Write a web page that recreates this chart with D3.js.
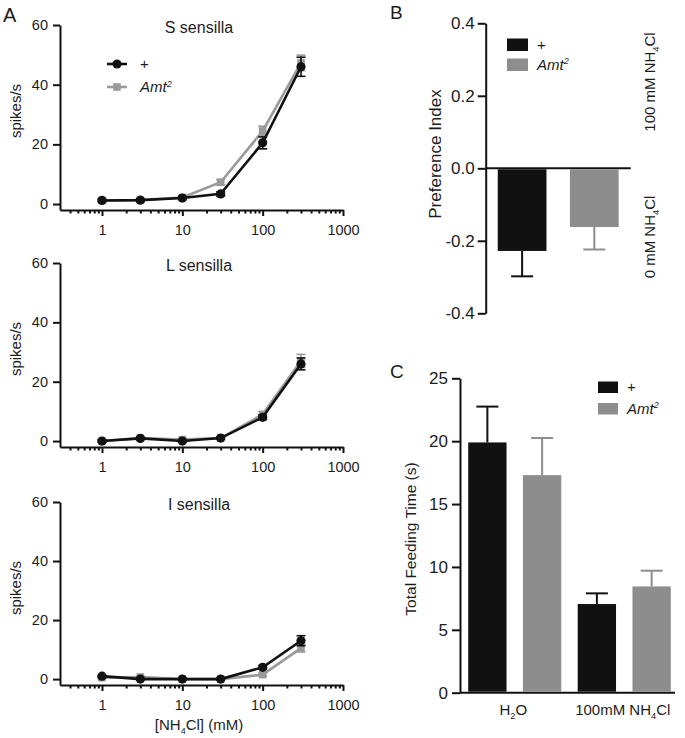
<!DOCTYPE html>
<html><head><meta charset="utf-8">
<script src="https://cdn.jsdelivr.net/npm/d3@7/dist/d3.min.js"></script>
<style>
body{margin:0;background:#fff}
svg text{font-family:"Liberation Sans",Arial,Helvetica,sans-serif;fill:#1c1c1c}
</style>
</head><body>
<svg id="c" width="685" height="738"></svg>
<script>
// ---------------- DATA ----------------
const concentrations = [1, 3, 10, 30, 100, 300];
const xTicksA = [1, 10, 100, 1000];
const yTicksA = [0, 20, 40, 60];

const sPlus = [1.2, 1.3, 2.0, 3.4, 20.5, 46.0];
const sPlusErr = [0.4, 0.5, 0.5, 0.7, 2.0, 3.2];
const sAmt = [1.2, 1.3, 2.2, 7.3, 24.5, 47.3];
const sAmtErr = [0.4, 0.4, 0.5, 0.9, 1.6, 2.6];

const lPlus = [0, 0.9, 0, 1.0, 8.0, 26.0];
const lPlusErr = [0.4, 0.4, 0.4, 0.4, 0.8, 2.0];
const lAmt = [0, 1.0, 0.5, 1.0, 9.0, 27.0];
const lAmtErr = [0.4, 0.4, 0.4, 0.4, 0.9, 2.2];

const iPlus = [1.0, 0, 0, 0, 4.0, 13.0];
const iPlusErr = [0.3, 0.3, 0.3, 0.3, 0.6, 1.7];
const iAmt = [0.5, 0.7, 0, 0, 1.5, 10.5];
const iAmtErr = [0.3, 0.3, 0.3, 0.3, 0.5, 1.3];

const genotypes = ["+", "Amt2"];

const prefValues = [-0.228, -0.162];
const prefErr = [0.070, 0.062];
const yTicksB = [-0.4, -0.2, 0.0, 0.2, 0.4];

const feedConditions = ["H2O", "100mM NH4Cl"];
const feedPlus = [19.9, 7.05];
const feedPlusErr = [2.85, 0.85];
const feedAmt = [17.3, 8.45];
const feedAmtErr = [2.95, 1.25];
const yTicksC = [0, 5, 10, 15, 20, 25];

// ---------------- STYLE ----------------
const BLACK = "#111", GRAY_BAR = "#8d8d8d", GRAY_LINE = "#9a9a9a", TXT = "#1c1c1c";
const svg = d3.select("#c");

function styleAxis(g, fs) {
  g.attr("font-family", null).attr("font-size", null);
  g.selectAll(".domain").attr("stroke", BLACK).attr("stroke-width", 2);
  g.selectAll(".tick line").attr("stroke", BLACK).attr("stroke-width", 2);
  g.selectAll(".tick text").attr("font-size", fs).style("fill", TXT);
}

// text with H-subscript digits (e.g. NH4Cl, H2O)
function subText(sel, str, fs) {
  const parts = str.split(/(?<=H)(\d)/);
  parts.forEach((p, i) => {
    if (!p) return;
    if (i % 2 === 1) {
      sel.append("tspan").attr("font-size", fs * 0.62).attr("dy", fs * 0.25).text(p);
    } else {
      const t = sel.append("tspan").text(p);
      if (i > 0) t.attr("dy", -fs * 0.25);
    }
  });
}
// genotype label: "+" plain, "Amt2" italic with superscript
function genoText(sel, g, fs) {
  if (g === "+") { sel.text("+").attr("font-size", fs); return; }
  sel.attr("font-size", fs).attr("font-style", "italic");
  sel.append("tspan").text(g.slice(0, 3));
  sel.append("tspan").attr("font-size", fs * 0.6).attr("dy", -fs * 0.35).text(g.slice(3));
}

// ---------------- PANEL A ----------------
const xA = d3.scaleLog().domain([0.3, 1000]).range([60, 343]);
const minorTicksA = xA.ticks().filter(t => t >= 0.4 && Math.abs(Math.log10(t) - Math.round(Math.log10(t))) > 1e-9);

const panelsA = [
  { title: "S sensilla", plus: sPlus, plusErr: sPlusErr, amt: sAmt, amtErr: sAmtErr, top: 25, axis: 210, legend: true },
  { title: "L sensilla", plus: lPlus, plusErr: lPlusErr, amt: lAmt, amtErr: lAmtErr, top: 263, axis: 447 },
  { title: "I sensilla", plus: iPlus, plusErr: iPlusErr, amt: iAmt, amtErr: iAmtErr, top: 502, axis: 685, xlabel: true }
];

panelsA.forEach(p => {
  const y = d3.scaleLinear().domain([-2, 60]).range([p.axis, p.top]);
  const g = svg.append("g");

  const ya = g.append("g").attr("transform", "translate(60,0)")
    .call(d3.axisLeft(y).tickValues(yTicksA).tickSize(7).tickPadding(5).tickSizeOuter(0));
  styleAxis(ya, 14.5);

  const xa = g.append("g").attr("transform", `translate(0,${p.axis})`)
    .call(d3.axisBottom(xA).tickValues(xTicksA).tickFormat(d3.format("d")).tickSize(6).tickPadding(9).tickSizeOuter(0));
  styleAxis(xa, 14.5);
  const xm = g.append("g").attr("transform", `translate(0,${p.axis})`)
    .call(d3.axisBottom(xA).tickValues(minorTicksA).tickFormat("").tickSize(3.5).tickSizeOuter(0));
  xm.select(".domain").remove();
  styleAxis(xm, 14.5);

  g.append("text").attr("x", 199).attr("y", p.top + 8).attr("text-anchor", "middle")
    .attr("font-size", 16).text(p.title);

  g.append("text").attr("transform", `translate(21,${p.top + 86}) rotate(-90)`)
    .attr("text-anchor", "middle").attr("font-size", 15).text("spikes/s");

  const series = [
    { v: p.amt, e: p.amtErr, c: GRAY_LINE, shape: "square" },
    { v: p.plus, e: p.plusErr, c: BLACK, shape: "circle" }
  ];
  series.forEach(s => {
    const pts = concentrations.map((c, i) => ({ c, v: s.v[i], e: s.e[i] }));
    const eb = g.append("g").attr("stroke", s.c).attr("stroke-width", 1.6);
    pts.forEach(d => {
      const x = xA(d.c);
      eb.append("line").attr("x1", x).attr("x2", x).attr("y1", y(d.v - d.e)).attr("y2", y(d.v + d.e));
      [d.v - d.e, d.v + d.e].forEach(v => eb.append("line").attr("x1", x - 4.5).attr("x2", x + 4.5).attr("y1", y(v)).attr("y2", y(v)));
    });
    g.append("path").datum(pts)
      .attr("d", d3.line().x(d => xA(d.c)).y(d => y(d.v)))
      .attr("fill", "none").attr("stroke", s.c).attr("stroke-width", 2.6);
    if (s.shape === "circle") {
      g.selectAll(null).data(pts).enter().append("circle")
        .attr("cx", d => xA(d.c)).attr("cy", d => y(d.v)).attr("r", 4.6).attr("fill", s.c);
    } else {
      g.selectAll(null).data(pts).enter().append("rect")
        .attr("x", d => xA(d.c) - 3.8).attr("y", d => y(d.v) - 3.8).attr("width", 7.6).attr("height", 7.6).attr("fill", s.c);
    }
  });

  if (p.legend) {
    const lg = [{ c: BLACK, shape: "circle", ly: 64, label: genotypes[0] }, { c: GRAY_LINE, shape: "square", ly: 87, label: genotypes[1] }];
    lg.forEach(l => {
      g.append("line").attr("x1", 107).attr("x2", 127).attr("y1", l.ly).attr("y2", l.ly).attr("stroke", l.c).attr("stroke-width", 2.6);
      if (l.shape === "circle") g.append("circle").attr("cx", 117).attr("cy", l.ly).attr("r", 4.6).attr("fill", l.c);
      else g.append("rect").attr("x", 113.2).attr("y", l.ly - 3.8).attr("width", 7.6).attr("height", 7.6).attr("fill", l.c);
      const t = g.append("text").attr("x", 140).attr("y", l.ly + 5);
      genoText(t, l.label, 15);
    });
  }
  if (p.xlabel) {
    const t = g.append("text").attr("x", 199).attr("y", 730).attr("text-anchor", "middle").attr("font-size", 15);
    t.append("tspan").text("[NH");
    t.append("tspan").attr("font-size", 9).attr("dy", 4).text("4");
    t.append("tspan").attr("dy", -4).text("Cl] (mM)");
  }
});

svg.append("text").attr("x", 3).attr("y", 22).attr("font-size", 20).text("A");

// ---------------- PANEL B ----------------
const yB = d3.scaleLinear().domain([-0.4, 0.4]).range([313.3, 23.3]);
const xB = d3.scaleBand().domain(genotypes).range([485.7, 630.7]).paddingInner(0.325).paddingOuter(0.167);
const gB = svg.append("g");
const yaB = gB.append("g").attr("transform", "translate(485.7,0)")
  .call(d3.axisLeft(yB).tickValues(yTicksB).tickFormat(d => d.toFixed(1)).tickSize(8).tickPadding(3).tickSizeOuter(0));
styleAxis(yaB, 17);
gB.append("line").attr("x1", 485.7).attr("x2", 630.7).attr("y1", yB(0)).attr("y2", yB(0)).attr("stroke", BLACK).attr("stroke-width", 2);
genotypes.forEach((gt, i) => {
  const c = i === 0 ? BLACK : GRAY_BAR;
  const v = prefValues[i], e = prefErr[i];
  const x = xB(gt), w = xB.bandwidth(), cx = x + w / 2;
  gB.append("line").attr("x1", cx).attr("x2", cx).attr("y1", yB(v)).attr("y2", yB(v - e)).attr("stroke", c).attr("stroke-width", 2);
  gB.append("line").attr("x1", cx - 11).attr("x2", cx + 11).attr("y1", yB(v - e)).attr("y2", yB(v - e)).attr("stroke", c).attr("stroke-width", 2);
  gB.append("rect").attr("x", x).attr("y", yB(0) + 1).attr("width", w).attr("height", yB(v) - yB(0) - 1).attr("fill", c);
});
gB.append("text").attr("transform", "translate(441,154) rotate(-90)").attr("text-anchor", "middle").attr("font-size", 17).text("Preference Index");
[{ s: "100 mM NH4Cl", y: 82 }, { s: "0 mM NH4Cl", y: 237 }].forEach(l => {
  const t = gB.append("text").attr("transform", `translate(655,${l.y}) rotate(-90)`).attr("text-anchor", "middle").attr("font-size", 15);
  subText(t, l.s, 15);
});
genotypes.forEach((gt, i) => {
  const ly = 38.5 + i * 20;
  gB.append("rect").attr("x", 507).attr("y", ly).attr("width", 21).attr("height", 12.5).attr("fill", i === 0 ? BLACK : GRAY_BAR);
  const t = gB.append("text").attr("x", 537).attr("y", ly + 11);
  genoText(t, gt, 15);
});
svg.append("text").attr("x", 390).attr("y", 19).attr("font-size", 19).text("B");

// ---------------- PANEL C ----------------
const yC = d3.scaleLinear().domain([0, 25]).range([692.7, 378.3]);
const x0C = d3.scaleBand().domain(feedConditions).range([460, 679]);
const x1C = d3.scaleBand().domain(genotypes).range([0, x0C.bandwidth()]).paddingInner(0.3).paddingOuter(0.15);
const gC = svg.append("g");
const yaC = gC.append("g").attr("transform", "translate(460,0)")
  .call(d3.axisLeft(yC).tickValues(yTicksC).tickSize(8).tickPadding(4).tickSizeOuter(0));
styleAxis(yaC, 17);
gC.append("line").attr("x1", 460).attr("x2", 675).attr("y1", yC(0)).attr("y2", yC(0)).attr("stroke", BLACK).attr("stroke-width", 2);
const feedSeries = [{ v: feedPlus, e: feedPlusErr, c: BLACK }, { v: feedAmt, e: feedAmtErr, c: GRAY_BAR }];
feedConditions.forEach((cond, ci) => {
  genotypes.forEach((gt, gi) => {
    const s = feedSeries[gi];
    const v = s.v[ci], e = s.e[ci];
    const x = x0C(cond) + x1C(gt), w = x1C.bandwidth(), cx = x + w / 2;
    gC.append("line").attr("x1", cx).attr("x2", cx).attr("y1", yC(v)).attr("y2", yC(v + e)).attr("stroke", s.c).attr("stroke-width", 2);
    gC.append("line").attr("x1", cx - 11).attr("x2", cx + 11).attr("y1", yC(v + e)).attr("y2", yC(v + e)).attr("stroke", s.c).attr("stroke-width", 2);
    gC.append("rect").attr("x", x).attr("y", yC(v)).attr("width", w).attr("height", yC(0) - yC(v) - 1).attr("fill", s.c);
  });
  const t = gC.append("text").attr("x", x0C(cond) + x0C.bandwidth() / 2 - 1.5).attr("y", 715).attr("text-anchor", "middle").attr("font-size", 15);
  subText(t, cond, 15);
});
gC.append("text").attr("transform", "translate(416,539) rotate(-90)").attr("text-anchor", "middle").attr("font-size", 15.5).text("Total Feeding Time (s)");
genotypes.forEach((gt, i) => {
  const ly = 381.5 + i * 21.5;
  gC.append("rect").attr("x", 598).attr("y", ly).attr("width", 20).attr("height", 11.5).attr("fill", i === 0 ? BLACK : GRAY_BAR);
  const t = gC.append("text").attr("x", 627).attr("y", ly + 10.5);
  genoText(t, gt, 15);
});
svg.append("text").attr("x", 390).attr("y", 378).attr("font-size", 19).text("C");
</script>
</body></html>
